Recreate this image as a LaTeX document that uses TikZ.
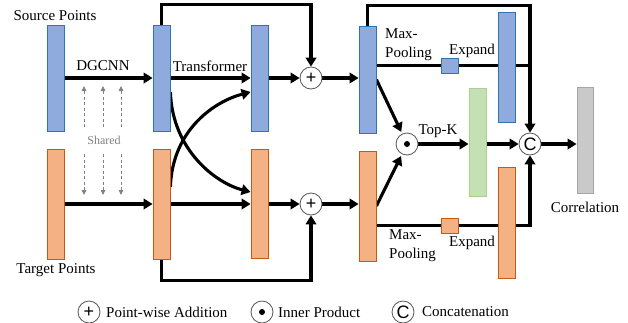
\documentclass[tikz,border=0pt]{standalone}
\usepackage{fontspec}
\setmainfont{Liberation Serif}
\newfontfamily\sansC{Liberation Sans}
\usetikzlibrary{arrows.meta,backgrounds,calc}
\definecolor{bfill}{HTML}{8FAADC}
\definecolor{bdraw}{HTML}{2E75B6}
\definecolor{ofill}{HTML}{F4B183}
\definecolor{odraw}{HTML}{C55A11}
\definecolor{gfill}{HTML}{C5E0B4}
\definecolor{gdraw}{HTML}{A9D18E}
\definecolor{kfill}{HTML}{C9C9C9}
\definecolor{kdraw}{HTML}{A5A5A5}
\definecolor{opcol}{HTML}{555555}
\begin{document}
\begin{tikzpicture}[x=1pt,y=-1pt,font=\fontsize{15}{19}\selectfont,
  bar/.style={draw,line width=0.8pt,minimum width=17pt,inner sep=0pt},
  bluebar/.style={bar,fill=bfill,draw=bdraw},
  orangebar/.style={bar,fill=ofill,draw=odraw},
  opcirc/.style={circle,draw=opcol,line width=0.8pt,fill=white,minimum size=22pt,inner sep=0pt},
  optext/.style={font=\sansC\fontsize{18}{18}\selectfont},
  arr/.style={line width=3.1pt,-{Triangle[length=9pt,width=10.5pt]}},
  plain/.style={line width=3.1pt},
  sharedarr/.style={draw=gray,line width=0.8pt,dash pattern=on 3pt off 2.5pt,-{Triangle[length=5pt,width=4.5pt]}},
  lbl/.style={inner sep=0pt}]
\useasboundingbox (0,0) rectangle (628,322);

% bars
\node[bluebar,minimum height=106pt] (s1) at (55.5,78) {};
\node[bluebar,minimum height=106pt] (s2) at (161.5,78) {};
\node[bluebar,minimum height=106pt] (s3) at (259.5,78) {};
\node[bluebar,minimum height=107pt] (s4) at (367.5,79.5) {};
\node[orangebar,minimum height=110pt] (t1) at (55.5,204) {};
\node[orangebar,minimum height=110pt] (t2) at (161.5,204) {};
\node[orangebar,minimum height=109pt] (t3) at (259.5,203.5) {};
\node[orangebar,minimum height=110pt] (t4) at (367.5,206) {};
\node[bluebar,minimum height=110pt] (eb) at (506.5,67) {};
\node[orangebar,minimum height=111pt] (eo) at (506.5,222.5) {};
\node[bluebar,minimum height=15pt] (sqb) at (449.5,65.5) {};
\node[orangebar,minimum height=15pt] (sqo) at (449.5,225.5) {};
\node[bar,fill=gfill,draw=gdraw,minimum height=108pt] (gr) at (477.5,142) {};
\node[bar,fill=kfill,draw=kdraw,minimum width=16pt,minimum height=106pt] (co) at (585,140) {};

% operators
\node[opcirc] (p1) at (311,78) {};
\node[optext] at (p1) {+};
\node[opcirc] (p2) at (311,204) {};
\node[optext] at (p2) {+};
\node[opcirc] (dot) at (407,144) {};
\fill (dot) circle (3pt);
\node[opcirc] (cc) at (530,144) {};
\node[optext] at (cc) {C};

% labels
\node[lbl] (src) at (55,16) {Source Points};
\node[lbl] (tgt) at (56,270) {Target Points};
\node[lbl] (dg) at (103,66) {DGCNN};
\node[lbl] (tf) at (210,66) {Transformer};
\node[lbl,text=gray,font=\fontsize{12}{14}\selectfont] (sh) at (104,140) {Shared};
\node[lbl,anchor=west,align=left] (mp1) at (385,45) {Max-\\Pooling};
\node[lbl] (ex1) at (472,51) {Expand};
\node[lbl,anchor=west,align=left] (mp2) at (389,246) {Max-\\Pooling};
\node[lbl] (ex2) at (472,243) {Expand};
\node[lbl] (tk) at (438,131) {Top-K};
\node[lbl] (cl) at (585,207) {Correlation};

% shared dashed arrows
\coordinate (ua1) at (84,127); \coordinate (ub1) at (84,86);
\coordinate (ua2) at (103,127); \coordinate (ub2) at (103,86);
\coordinate (ua3) at (121,127); \coordinate (ub3) at (121,86);
\coordinate (da1) at (84,154); \coordinate (db1) at (84,195);
\coordinate (da2) at (103,154); \coordinate (db2) at (103,195);
\coordinate (da3) at (121,154); \coordinate (db3) at (121,195);
\foreach \i in {1,2,3}{
  \draw[sharedarr] (ua\i) -- (ub\i);
  \draw[sharedarr] (da\i) -- (db\i);
}

% legend
\node[opcirc] (lp) at (89,312) {};
\node[optext] at (lp) {+};
\node[lbl,anchor=west] (lpt) at (106,312) {Point-wise Addition};
\node[opcirc] (ld) at (262,312) {};
\fill (ld) circle (3pt);
\node[lbl,anchor=west] (ldt) at (278,312) {Inner Product};
\node[opcirc] (lc) at (403,312) {};
\node[optext] at (lc) {C};
\node[lbl,anchor=west] (lct) at (422,312) {Concatenation};

\begin{scope}[on background layer]
  \draw[arr] (s1.east) -- (s2.west);
  \draw[arr] (t1.east) -- (t1.east -| t2.west);
  \draw[arr] (s2.east) -- (s3.west);
  \draw[arr] (t2.east) -- (t2.east -| t3.west);
  \draw[arr] (s3.east) -- (p1.west);
  \draw[arr] (t3.east |- p2) -- (p2.west);
  \draw[arr] (p1.east) -- (p1.east -| s4.west);
  \draw[arr] (p2.east) -- (p2.east -| t4.west);
  \draw[arr] (s2.north) -- ++(0,-20) -| (p1.north);
  \draw[arr] (t2.south) -- ++(0,21) -| (p2.south);
  \draw[arr] ([yshift=-14pt]s2.east) .. controls +(2,58) and +(-35,-9) .. ([yshift=11.5pt]t3.west);
  \draw[arr] ([yshift=17pt]t2.east) .. controls +(2,-58) and +(-35,9) .. ([yshift=-14pt]s3.west);
  \draw[arr,shorten >=2pt] (s4.east) -- (dot);
  \draw[arr,shorten >=2pt] (t4.east) -- (dot);
  \draw[arr] (s4.north) -- ++(0,-20) -| (cc.north);
  \draw[plain] (s4.east |- sqb) -- (sqb.west);
  \draw[plain] (sqb.east) -- (sqb.east -| cc);
  \draw[plain] (t4.east |- sqo) -- (sqo.west);
  \draw[arr] (sqo.east) -| (cc.south);
  \draw[arr] (dot.east) -- (dot.east -| gr.west);
  \draw[arr] (gr.east |- cc) -- (cc.west);
  \draw[arr] (cc.east) -- (cc.east -| co.west);
\end{scope}
\end{tikzpicture}
\end{document}
